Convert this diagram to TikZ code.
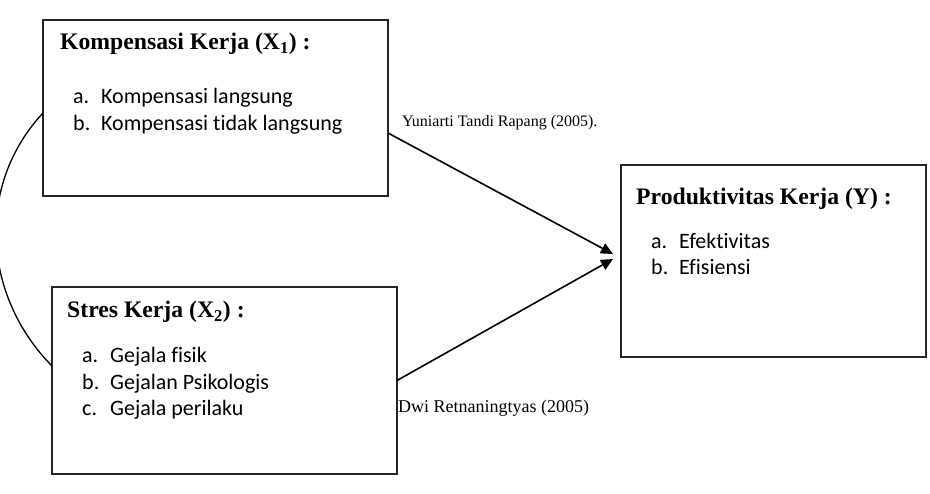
\documentclass[tikz,border=0pt]{standalone}
\usepackage{fontspec}
\setmainfont{Liberation Serif}
\newfontfamily\calibri[Ligatures=NoCommon]{Carlito}
\usetikzlibrary{arrows.meta}
\begin{document}
\begin{tikzpicture}[x=1pt,y=-1pt,
  box/.style={draw=black!85, line width=1.5pt, inner sep=0pt, outer sep=0pt},
  title/.style={anchor=base west, inner sep=0pt, font=\fontsize{23.7}{28}\selectfont\bfseries},
  item/.style={anchor=base west, inner sep=0pt, font=\calibri\fontsize{22}{26}\selectfont},
  lab/.style={anchor=base west, inner sep=0pt},
  conn/.style={line width=1.6pt, -{Triangle[length=12pt,width=11pt]}},
  arcline/.style={line width=1.3pt}]
\useasboundingbox (0,0) rectangle (930,494);
\clip (0,0) rectangle (930,494);
\fill[white] (0,0) rectangle (930,494);
% boxes
\node[box, minimum width=345pt, minimum height=176pt] (k) at (215.5,108) {};
\node[box, minimum width=345pt, minimum height=187pt] (s) at (224.5,380.5) {};
\node[box, minimum width=305pt, minimum height=192pt] (p) at (773.5,261) {};
% box X1 text
\node[title] (kt) at (60,50) {Kompensasi Kerja (X\textsubscript{1}) :};
\node[item] (k1) at (73,104) {\makebox[28pt][l]{a.}Kompensasi langsung};
\node[item] (k2) at (73,131) {\makebox[28pt][l]{b.}Kompensasi tidak langsung};
% box X2 text
\node[title] (st) at (67,318) {Stres Kerja (X\textsubscript{2}) :};
\node[item] (s1) at (82,363) {\makebox[28pt][l]{a.}Gejala fisik};
\node[item] (s2) at (82,389.5) {\makebox[28pt][l]{b.}Gejalan Psikologis};
\node[item] (s3) at (82,416) {\makebox[28pt][l]{c.}Gejala perilaku};
% box Y text
\node[title] (pt) at (636,205) {Produktivitas Kerja (Y) :};
\node[item] (p1) at (651,249) {\makebox[28pt][l]{a.}Efektivitas};
\node[item] (p2) at (651,275) {\makebox[28pt][l]{b.}Efisiensi};
% labels
\node[lab, font=\fontsize{16}{19}\selectfont] (l1) at (402,127) {Yuniarti Tandi Rapang (2005).};
\node[lab, font=\fontsize{18}{21}\selectfont] (l2) at (398,413) {Dwi Retnaningtyas (2005)};
% connectors
\draw[conn] ([yshift=-25pt]k.east) -- ([xshift=-8pt,yshift=7pt]p.west);
\draw[conn] (s.east) -- ([xshift=-8pt,yshift=2pt]p.west);
\draw[arcline] ([yshift=-5pt]k.west) .. controls (-25,186) and (-17,296) .. ([yshift=14.5pt]s.west);
\end{tikzpicture}
\end{document}
